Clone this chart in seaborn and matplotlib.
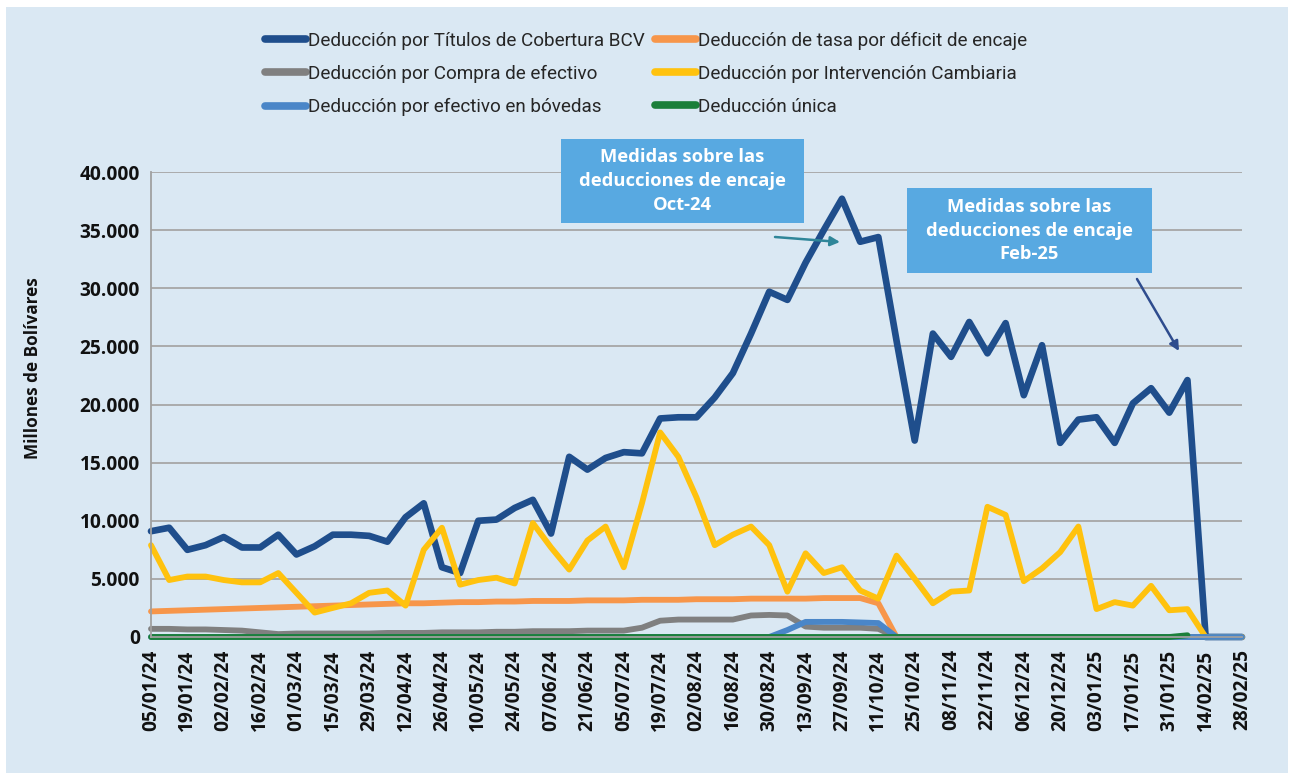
import matplotlib

matplotlib.use("Agg")
import matplotlib.dates as mdates
import matplotlib.pyplot as plt
import pandas as pd
import seaborn as sns
from matplotlib.lines import Line2D
from matplotlib.patches import Rectangle
from matplotlib.ticker import FuncFormatter


# semanas (viernes) del 05/01/24 al 28/02/25
FECHA_INICIAL = "2024-01-05"
N_SEMANAS = 61

SERIES = [
    "Deducción por Títulos de Cobertura BCV",
    "Deducción de tasa por déficit de encaje",
    "Deducción por Compra de efectivo",
    "Deducción por Intervención Cambiaria",
    "Deducción por efectivo en bóvedas",
    "Deducción única",
]

COLORES = ["#1F4E8C", "#F7964A", "#808080", "#FFC20E", "#4A86C8", "#1B7F3A"]

titulos_bcv = [
    9100, 9400, 7500, 7900, 8600, 7700, 7700, 8800, 7100, 7800,
    8800, 8800, 8700, 8200, 10300, 11500, 6000, 5500, 10000, 10100,
    11100, 11800, 8900, 15500, 14400, 15400, 15900, 15800, 18800, 18900,
    18900, 20600, 22700, 26100, 29700, 29000, 32200, 35000, 37700, 34000,
    34400, 25500, 16900, 26100, 24100, 27100, 24400, 27000, 20800, 25100,
    16700, 18700, 18900, 16700, 20100, 21400, 19300, 22100, 0, 0,
    0,
]

deficit_encaje = [
    2200, 2250, 2300, 2350, 2400, 2450, 2500, 2550, 2600, 2650,
    2700, 2750, 2800, 2850, 2900, 2900, 2950, 3000, 3000, 3050,
    3050, 3100, 3100, 3100, 3150, 3150, 3150, 3200, 3200, 3200,
    3250, 3250, 3250, 3300, 3300, 3300, 3300, 3350, 3350, 3350,
    2900, 0, 0, 0, 0, 0, 0, 0, 0, 0,
    0, 0, 0, 0, 0, 0, 0, 0, 0, 0,
    0,
]

compra_efectivo = [
    700, 700, 650, 650, 600, 550, 400, 250, 300, 300,
    300, 300, 300, 350, 350, 350, 400, 400, 400, 450,
    450, 500, 500, 500, 550, 550, 550, 800, 1400, 1500,
    1500, 1500, 1500, 1850, 1900, 1850, 900, 800, 800, 800,
    700, 0, 0, 0, 0, 0, 0, 0, 0, 0,
    0, 0, 0, 0, 0, 0, 0, 0, 0, 0,
    0,
]

intervencion_cambiaria = [
    7900, 4900, 5200, 5200, 4900, 4700, 4700, 5500, 3800, 2100,
    2500, 2900, 3800, 4000, 2700, 7500, 9400, 4500, 4900, 5100,
    4600, 9800, 7700, 5800, 8300, 9500, 6000, 11500, 17600, 15500,
    12000, 7900, 8800, 9500, 7900, 3900, 7200, 5500, 6000, 4000,
    3300, 7000, 5000, 2900, 3900, 4000, 11200, 10500, 4800, 5900,
    7300, 9500, 2400, 3000, 2700, 4400, 2300, 2400, 0, 0,
    0,
]

efectivo_bovedas = [
    0, 0, 0, 0, 0, 0, 0, 0, 0, 0,
    0, 0, 0, 0, 0, 0, 0, 0, 0, 0,
    0, 0, 0, 0, 0, 0, 0, 0, 0, 0,
    0, 0, 0, 0, 0, 600, 1300, 1300, 1300, 1250,
    1200, 0, 0, 0, 0, 0, 0, 0, 0, 0,
    0, 0, 0, 0, 0, 0, 0, 0, 0, 0,
    0,
]

# la deducción única no tiene dato en las últimas tres semanas
deduccion_unica = [0] * 57 + [150] + [None, None, None]

RECUADROS = [
    ("Medidas sobre las\ndeducciones de encaje\nOct-24", (561, 139, 804, 223)),
    ("Medidas sobre las\ndeducciones de encaje\nFeb-25", (907, 188, 1152, 273)),
]
FLECHAS = [
    ((775, 237), (840, 242), "#2F8699"),
    ((1137, 279), (1179, 351), "#2E4C8E"),
]

FONDO = "#DAE8F3"
W, H = 1300, 776


def px(x, y):
    # pixeles (desde arriba a la izquierda) a fraccion de figura
    return x / W, 1 - y / H


def build_frame() -> pd.DataFrame:
    fechas = pd.date_range(FECHA_INICIAL, periods=N_SEMANAS, freq="7D")
    valores = [
        titulos_bcv,
        deficit_encaje,
        compra_efectivo,
        intervencion_cambiaria,
        efectivo_bovedas,
        deduccion_unica,
    ]
    frames = [
        pd.DataFrame({"fecha": fechas, "serie": nombre, "valor": serie})
        for nombre, serie in zip(SERIES, valores)
    ]
    return pd.concat(frames, ignore_index=True).dropna()


def main() -> None:
    sns.set_style("white")
    plt.rcParams["font.family"] = ["Open Sans", "DejaVu Sans"]

    df = build_frame()
    fechas = pd.date_range(FECHA_INICIAL, periods=N_SEMANAS, freq="7D")

    fig = plt.figure(figsize=(W / 100, H / 100), dpi=100, facecolor="white")
    x0, y0 = px(6, 773)
    x1, y1 = px(1288, 7)
    fig.patches.append(
        Rectangle((x0, y0), x1 - x0, y1 - y0, transform=fig.transFigure,
                  facecolor=FONDO, edgecolor="none", zorder=-5)
    )

    left, bottom = px(151, 637)
    right, top = px(1242, 172)
    ax = fig.add_axes([left, bottom, right - left, top - bottom])
    ax.set_facecolor(FONDO)

    sns.lineplot(
        data=df, x="fecha", y="valor", hue="serie", hue_order=SERIES,
        palette=COLORES, estimator=None, errorbar=None, linewidth=4.2,
        legend=False, ax=ax,
    )
    for line in ax.lines:
        line.set_solid_capstyle("round")
        line.set_solid_joinstyle("round")
        line.set_clip_on(False)
    ax.lines[0].set_linewidth(4.8)

    ax.set_ylim(0, 40000)
    ax.set_xlim(fechas[0], fechas[-1])
    ax.set_yticks(range(0, 40001, 5000))
    ax.yaxis.set_major_formatter(
        FuncFormatter(lambda v, _: f"{int(v):,}".replace(",", "."))
    )
    ax.set_xticks(fechas[::2])
    ax.xaxis.set_major_formatter(mdates.DateFormatter("%d/%m/%y"))

    ax.grid(axis="y", color="#A6A6A6", linewidth=1.3)
    ax.grid(axis="x", visible=False)
    ax.set_axisbelow(True)
    for side in ["top", "right"]:
        ax.spines[side].set_visible(False)
    for side in ["left", "bottom"]:
        ax.spines[side].set_color("#A0A0A0")
        ax.spines[side].set_linewidth(1.3)

    ax.tick_params(axis="both", direction="out", length=5, width=1.2,
                   color="#A0A0A0", labelcolor="#111111", labelsize=13.8)
    ax.tick_params(axis="x", pad=4, labelrotation=90)
    ax.tick_params(axis="y", pad=3)
    for label in ax.get_xticklabels() + ax.get_yticklabels():
        label.set_fontweight("bold")

    ax.set_xlabel("")
    ax.set_ylabel("Millones de Bolívares", fontsize=12.3,
                  fontweight="bold", color="#111111")
    ax.yaxis.set_label_coords(-0.1, 0.578)

    handles = [
        Line2D([], [], color=c, linewidth=5.5, solid_capstyle="round")
        for c in COLORES
    ]
    order = [0, 2, 4, 1, 3, 5]
    fig.legend(
        [handles[i] for i in order], [SERIES[i] for i in order],
        loc="center", bbox_to_anchor=px(646, 74), ncol=2, frameon=False,
        prop={"family": "Roboto", "size": 13.6}, handlelength=2.2,
        handletextpad=0.12, columnspacing=0.5, labelspacing=0.8,
        borderpad=0.2,
    )

    for texto, (bx0, by0, bx1, by1) in RECUADROS:
        fx0, fy0 = px(bx0, by1)
        fx1, fy1 = px(bx1, by0)
        fig.patches.append(
            Rectangle((fx0, fy0), fx1 - fx0, fy1 - fy0,
                      transform=fig.transFigure, facecolor="#58A9E1",
                      edgecolor="none", zorder=5)
        )
        fig.text((fx0 + fx1) / 2, (fy0 + fy1) / 2, texto, ha="center",
                 va="center", color="white", fontsize=13.2,
                 fontweight="bold", linespacing=1.4, zorder=6)

    for inicio, fin, color in FLECHAS:
        ax.annotate(
            "", xy=px(*fin), xytext=px(*inicio), xycoords="figure fraction",
            textcoords="figure fraction", annotation_clip=False,
            arrowprops=dict(arrowstyle="-|>", color=color, lw=1.8,
                            mutation_scale=14, shrinkA=0, shrinkB=0),
        )

    fig.savefig("out.png", dpi=100, facecolor="white")
    plt.close(fig)


if __name__ == "__main__":
    main()
